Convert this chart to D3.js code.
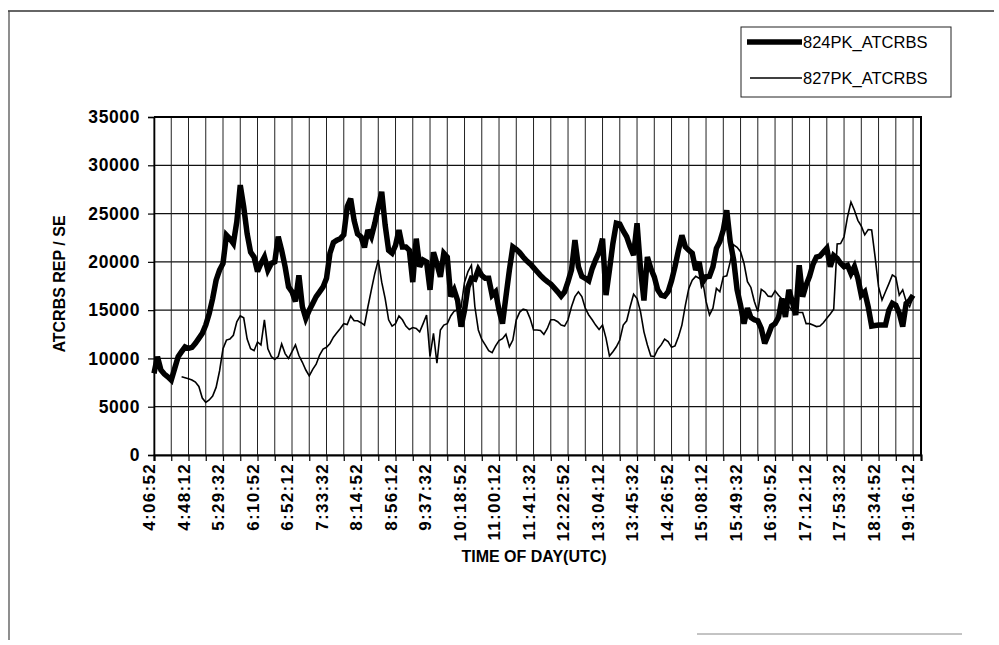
<!DOCTYPE html>
<html>
<head>
<meta charset="utf-8">
<script src="https://cdn.jsdelivr.net/npm/d3@7"></script>
<style>
  html, body { margin: 0; padding: 0; background: #fff; }
  svg { display: block; font-family: "Liberation Sans", Arial, sans-serif; }
</style>
</head>
<body>
<svg id="chart" width="999" height="645"></svg>
<script>
// Reply rate per sample interval (4 min 8 s between samples), starting 4:06:52 UTC
const series824 = [
  8450, 10180, 8800, 8380, 8100, 7760, 8970, 10180, 10700, 11200,
  11040, 11140, 11560, 12075, 12600, 13450, 14660, 16200, 18100, 19150,
  19840, 22770, 22400, 21900, 24150, 27950, 25700, 22900, 21000, 20500,
  19000, 19840, 20500, 19150, 19840, 20000, 22600, 21200, 19500, 17400,
  16900, 15900, 18600, 15350, 14150, 15000, 15700, 16400, 16900, 17400,
  18300, 20900, 22000, 22250, 22400, 22800, 25700, 26550, 24300, 22900,
  22600, 21500, 23300, 22600, 24000, 25700, 27250, 23800, 21200, 20900,
  21700, 23300, 21550, 21550, 21200, 17900, 22400, 19500, 20200, 20000,
  17100, 21000, 19800, 18450, 20900, 20500, 16400, 17100, 16000, 13300,
  15000, 17400, 18300, 18200, 19200, 18600, 18300, 18300, 16550, 16900,
  15000, 13600, 16400, 19150, 21550, 21300, 20950, 20500, 20100, 19800,
  19400, 19000, 18600, 18250, 17950, 17700, 17300, 16900, 16450, 16900,
  17950, 19150, 22250, 19500, 18500, 18300, 18050, 19300, 20200, 21000,
  22400, 16550, 19150, 21900, 24000, 23900, 23200, 22600, 21550, 20700,
  24000, 19300, 16000, 20500, 19300, 18450, 17100, 16550, 16450, 16900,
  18050, 19500, 21200, 22750, 21550, 21200, 20900, 19150, 20000, 17900,
  18450, 18500, 19500, 21400, 22100, 23300, 25350, 22100, 20200, 17100,
  15500, 13600, 15200, 14250, 14000, 13900, 13100, 11550, 12400, 13350,
  13600, 14250, 16200, 14300, 17100, 15900, 14500, 19650, 16400, 17600,
  18500, 19750, 20500, 20600, 21000, 21400, 19500, 20650, 20350, 19850,
  19500, 19650, 18800, 19500, 18300, 16550, 16900, 15350, 13350, 13400,
  13450, 13450, 13450, 15000, 15700, 15500, 14700, 13300, 15700, 16000,
  16550
];

const series827 = [
  null, null, null, null, null, null, null, null, 8100, 8000,
  7900, 7770, 7550, 7100, 5900, 5450, 5700, 6100, 7000, 8700,
  11000, 11900, 12000, 12400, 13800, 14400, 14200, 12000, 11000, 10800,
  11700, 11400, 14000, 11000, 10200, 9900, 10200, 11500, 10500, 10000,
  10700, 11400, 10300, 9600, 8800, 8200, 8870, 9400, 10350, 10970,
  11150, 11550, 12200, 12650, 13100, 13600, 13500, 14400, 13900, 13900,
  13700, 13450, 15350, 17100, 18800, 20200, 17900, 16200, 14000, 13350,
  13600, 14400, 14000, 13350, 13000, 13200, 13100, 12750, 13600, 14500,
  10200, 12600, 9500, 12950, 13450, 13600, 14400, 14900, 15000, 15300,
  17900, 19000, 19650, 15350, 12950, 11970, 11400, 10800, 10600, 11300,
  11850, 12050, 12500, 11200, 11900, 14000, 14800, 15100, 15000, 14150,
  12950, 12950, 12900, 12500, 13100, 14000, 14000, 13800, 13450, 13350,
  14000, 15350, 16400, 16900, 16400, 15200, 14500, 14000, 13450, 13000,
  13450, 12100, 10250, 10700, 11200, 11900, 13450, 13900, 15350, 16650,
  16200, 14850, 12750, 11400, 10250, 10200, 10950, 11400, 12000, 11750,
  11150, 11300, 12250, 13450, 15500, 17250, 18100, 18500, 18300, 18100,
  15900, 14500, 15200, 17250, 16900, 18450, 18550, 20000, 21750, 21500,
  21050, 19850, 17950, 17350, 15900, 14850, 17150, 16900, 16450, 16400,
  17000, 16550, 16150, 15700, 15350, 14950, 14750, 14750, 14750, 13600,
  13600, 13450, 13300, 13350, 13700, 14150, 14600, 15100, 21850, 21900,
  22600, 24650, 26200, 25350, 24300, 23700, 22800, 23350, 23300, 20500,
  17400, 16050, 16900, 17750, 18650, 18400, 16550, 17100, 15900, 15350,
  16400
];

// Category labels, one every ten samples
const timeLabels = [
  "4:06:52", "4:48:12", "5:29:32", "6:10:52", "6:52:12", "7:33:32",
  "8:14:52", "8:56:12", "9:37:32", "10:18:52", "11:00:12", "11:41:32",
  "12:22:52", "13:04:12", "13:45:32", "14:26:52", "15:08:12", "15:49:32",
  "16:30:52", "17:12:12", "17:53:32", "18:34:52", "19:16:12"
];
const labelEvery = 10;
const gridEvery = 5;

const yTicks = [0, 5000, 10000, 15000, 20000, 25000, 30000, 35000];

const seriesNames = ["824PK_ATCRBS", "827PK_ATCRBS"];

const svg = d3.select("#chart");

// page frame
svg.append("line").attr("x1", 8).attr("x2", 994).attr("y1", 11).attr("y2", 11)
  .attr("stroke", "#333").attr("stroke-width", 1.5);
svg.append("line").attr("x1", 9).attr("x2", 9).attr("y1", 11).attr("y2", 640)
  .attr("stroke", "#444").attr("stroke-width", 1.2);
svg.append("line").attr("x1", 697).attr("x2", 962).attr("y1", 634).attr("y2", 634)
  .attr("stroke", "#888").attr("stroke-width", 1);

const plot = { left: 154, right: 921, top: 117, bottom: 455 };

const x = d3.scaleLinear().domain([0, 222.3]).range([plot.left, plot.right]);
const y = d3.scaleLinear().domain([0, 35000]).range([plot.bottom, plot.top]);

const gridIdx = d3.range(0, series824.length, gridEvery);

// gridlines
const grid = svg.append("g");
grid.selectAll("line.h").data(yTicks).join("line")
  .attr("class", "h")
  .attr("x1", plot.left).attr("x2", plot.right)
  .attr("y1", d => y(d)).attr("y2", d => y(d))
  .attr("stroke", "#111").attr("stroke-width", 1.2);
grid.selectAll("line.v").data(gridIdx).join("line")
  .attr("class", "v")
  .attr("x1", d => x(d)).attr("x2", d => x(d))
  .attr("y1", plot.top).attr("y2", plot.bottom)
  .attr("stroke", "#222").attr("stroke-width", 1);

// plot border (top and right)
svg.append("path")
  .attr("d", `M${plot.left},${plot.top}H${plot.right}V${plot.bottom}`)
  .attr("fill", "none").attr("stroke", "#000").attr("stroke-width", 2);

// axes
const yAxis = svg.append("g")
  .attr("transform", `translate(${plot.left},0)`)
  .call(d3.axisLeft(y).tickValues(yTicks).tickSize(6).tickPadding(8).tickFormat(d3.format("d")));
yAxis.select(".domain").attr("stroke", "#000").attr("stroke-width", 1.6);
yAxis.selectAll(".tick line").attr("stroke", "#000").attr("stroke-width", 1.2);
yAxis.selectAll(".tick text")
  .attr("fill", "#000")
  .style("font-size", "17.5px").style("font-weight", "bold").style("letter-spacing", "0.6px");

const xAxis = svg.append("g")
  .attr("transform", `translate(0,${plot.bottom})`)
  .call(d3.axisBottom(x).tickValues(gridIdx).tickSize(6)
    .tickFormat(d => d % labelEvery === 0 ? timeLabels[d / labelEvery] : ""));
xAxis.select(".domain").attr("stroke", "#000").attr("stroke-width", 2.2);
xAxis.selectAll(".tick line").attr("stroke", "#000").attr("stroke-width", 1.2);
xAxis.selectAll(".tick text")
  .attr("transform", "rotate(-90)")
  .attr("x", -8).attr("y", 0).attr("dy", "0.05em")
  .attr("text-anchor", "end")
  .attr("fill", "#000")
  .style("font-size", "17px").style("font-weight", "bold").style("letter-spacing", "1.3px");

// axis titles
svg.append("text")
  .attr("transform", "translate(65,284) rotate(-90)")
  .attr("text-anchor", "middle")
  .style("font-size", "16px").style("font-weight", "bold")
  .text("ATCRBS REP / SE");
svg.append("text")
  .attr("x", 534).attr("y", 562)
  .attr("text-anchor", "middle")
  .style("font-size", "16px").style("font-weight", "bold")
  .text("TIME OF DAY(UTC)");

// series lines
const line = d3.line()
  .defined(d => d != null)
  .x((d, i) => x(i))
  .y(d => y(d));

svg.append("path").datum(series827)
  .attr("fill", "none").attr("stroke", "#000").attr("stroke-width", 1.6)
  .attr("stroke-linejoin", "miter").attr("d", line);
svg.append("path").datum(series824)
  .attr("fill", "none").attr("stroke", "#000").attr("stroke-width", 5.5)
  .attr("stroke-linejoin", "miter").attr("stroke-miterlimit", 3).attr("d", line);

// legend
const legend = svg.append("g");
legend.append("rect")
  .attr("x", 741).attr("y", 27).attr("width", 210).attr("height", 70)
  .attr("fill", "#fff").attr("stroke", "#222").attr("stroke-width", 1);
const legendRows = [
  { name: seriesNames[0], width: 5.5, x1: 747, y: 42 },
  { name: seriesNames[1], width: 1.6, x1: 750, y: 78 }
];
legendRows.forEach(r => {
  legend.append("line")
    .attr("x1", r.x1).attr("x2", 802).attr("y1", r.y).attr("y2", r.y)
    .attr("stroke", "#000").attr("stroke-width", r.width);
  legend.append("text")
    .attr("x", 803).attr("y", r.y + 5.5)
    .style("font-size", "16.5px")
    .text(r.name);
});
</script>
</body>
</html>
